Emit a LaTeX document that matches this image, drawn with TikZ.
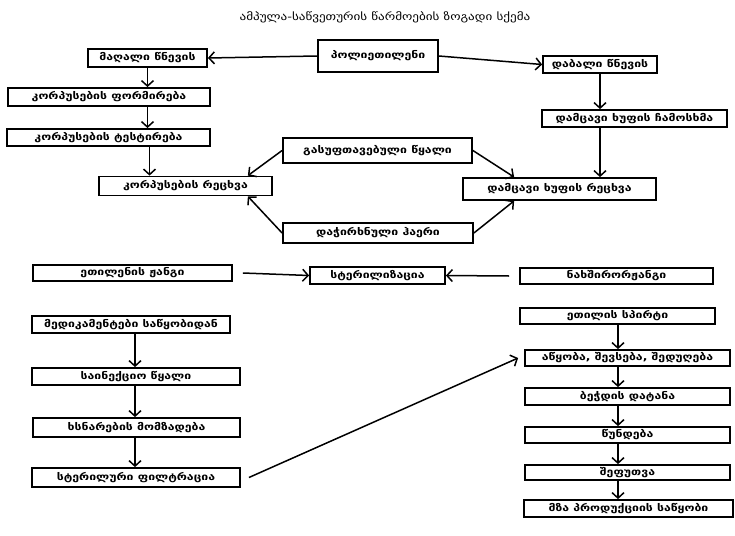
\documentclass[tikz,border=0pt]{standalone}
\usepackage{fontspec}
\setmainfont{DejaVu Sans}[FakeStretch=1.25]
\usetikzlibrary{arrows.meta}
\begin{document}
\begin{tikzpicture}[x=1pt,y=-1pt,
  box/.style={draw, line width=1.8pt, fill=white, inner sep=1pt,
    font=\fontsize{9.8pt}{10pt}\selectfont\bfseries},
  arr/.style={line width=1.5pt, -{Straight Barb[length=5.5pt,width=12pt,line width=1.5pt]}},
  ttl/.style={font=\fontsize{10.5pt}{11pt}\selectfont}]
\useasboundingbox (0,0) rectangle (735,535);

% title
\node[ttl] (title) at (385,17) {ამპულა-საწვეთურის წარმოების ზოგადი სქემა};

% container production
\node[box, minimum width=120pt, minimum height=32pt] (poly) at (378,56) {პოლიეთილენი};
\node[box, minimum width=119pt, minimum height=18pt] (hp) at (147.5,58) {მაღალი წნევის};
\node[box, minimum width=114pt, minimum height=17pt] (lp) at (600,64.5) {დაბალი წნევის};
\node[box, minimum width=202pt, minimum height=18pt] (form) at (109,97) {კორპუსების ფორმირება};
\node[box, minimum width=203pt, minimum height=17pt] (test) at (108.5,137.5) {კორპუსების ტესტირება};
\node[box, minimum width=173pt, minimum height=19pt] (wash) at (185.5,186) {კორპუსების რეცხვა};
\node[box, minimum width=189pt, minimum height=25pt] (water) at (377.5,150.5) {გასუფთავებული წყალი};
\node[box, minimum width=190pt, minimum height=20pt] (air) at (378,233) {დაჭირხნული ჰაერი};
\node[box, minimum width=185pt, minimum height=17pt] (capcast) at (634.5,118.5) {დამცავი ხუფის ჩამოსხმა};
\node[box, minimum width=193pt, minimum height=22pt] (capwash) at (559.5,189) {დამცავი ხუფის რეცხვა};

% sterilization
\node[box, minimum width=199pt, minimum height=16pt] (eo) at (132.5,273) {ეთილენის ჟანგი};
\node[box, minimum width=135pt, minimum height=17pt] (ster) at (377.5,275.5) {სტერილიზაცია};
\node[box, minimum width=193pt, minimum height=16pt] (co2) at (616.5,276) {ნახშირორჟანგი};

% solution line
\node[box, minimum width=195pt, minimum height=16pt] (etoh) at (617.5,316) {ეთილის სპირტი};
\node[box, minimum width=198pt, minimum height=17pt] (meds) at (131,324.5) {მედიკამენტები საწყობიდან};
\node[box, minimum width=208pt, minimum height=17pt] (wfi) at (136,376.5) {საინექციო წყალი};
\node[box, minimum width=207pt, minimum height=19pt] (prep) at (136.5,427.5) {ხსნარების მომზადება};
\node[box, minimum width=208pt, minimum height=19pt] (filt) at (136,477.5) {სტერილური ფილტრაცია};

% filling and packing
\node[box, minimum width=205pt, minimum height=16pt] (fill) at (627.5,358) {აწყობა, შევსება, შედუღება};
\node[box, minimum width=205pt, minimum height=17pt] (print) at (627.5,396.5) {ბეჭდის დატანა};
\node[box, minimum width=205pt, minimum height=16pt] (qc) at (627.5,435) {წუნდება};
\node[box, minimum width=205pt, minimum height=15pt] (pack) at (627.5,472.5) {შეფუთვა};
\node[box, minimum width=209pt, minimum height=17pt] (store) at (628.5,508.5) {მზა პროდუქციის საწყობი};

% helper points on box edges
\coordinate (washin1) at ([xshift=-25pt]wash.north east);
\coordinate (washin2) at ([xshift=-25pt]wash.south east);
\coordinate (capin1) at ([xshift=52pt]capwash.north west);
\coordinate (capin2) at ([xshift=52pt]capwash.south west);

% connectors
\draw[arr] (poly.west) -- (hp.east);
\draw[arr] (poly.east) -- (lp.west);
\draw[arr] (hp.south) -- (form.north -| hp.south);
\draw[arr] (form.south -| hp.south) -- (test.north -| hp.south);
\draw[arr] ([xshift=2pt]test.south -| hp.south) -- ([xshift=2pt]wash.north -| hp.south);
\draw[arr] (water.west) -- (washin1);
\draw[arr] (air.west) -- (washin2);
\draw[arr] (water.east) -- (capin1);
\draw[arr] (air.east) -- (capin2);
\draw[arr] (lp.south) -- (capcast.north -| lp.south);
\draw[arr] (capcast.south -| lp.south) -- (capwash.north -| lp.south);

\draw[arr] ([xshift=10pt]eo.east) -- (ster.west);
\draw[arr] ([xshift=-10pt]co2.west) -- (ster.east);

\draw[arr] (meds.south -| 135,0) -- (wfi.north -| 135,0);
\draw[arr] (wfi.south -| 135,0) -- (prep.north -| 135,0);
\draw[arr] (prep.south -| 135,0) -- (filt.north -| 135,0);
\draw[arr] ([xshift=8pt]filt.east) -- ([xshift=-6pt]fill.west);

\draw[arr] (etoh.south -| 618,0) -- (fill.north -| 618,0);
\draw[arr] (fill.south -| 618,0) -- (print.north -| 618,0);
\draw[arr] (print.south -| 618,0) -- (qc.north -| 618,0);
\draw[arr] (qc.south -| 618,0) -- (pack.north -| 618,0);
\draw[arr] (pack.south -| 618,0) -- (store.north -| 618,0);
\end{tikzpicture}
\end{document}
